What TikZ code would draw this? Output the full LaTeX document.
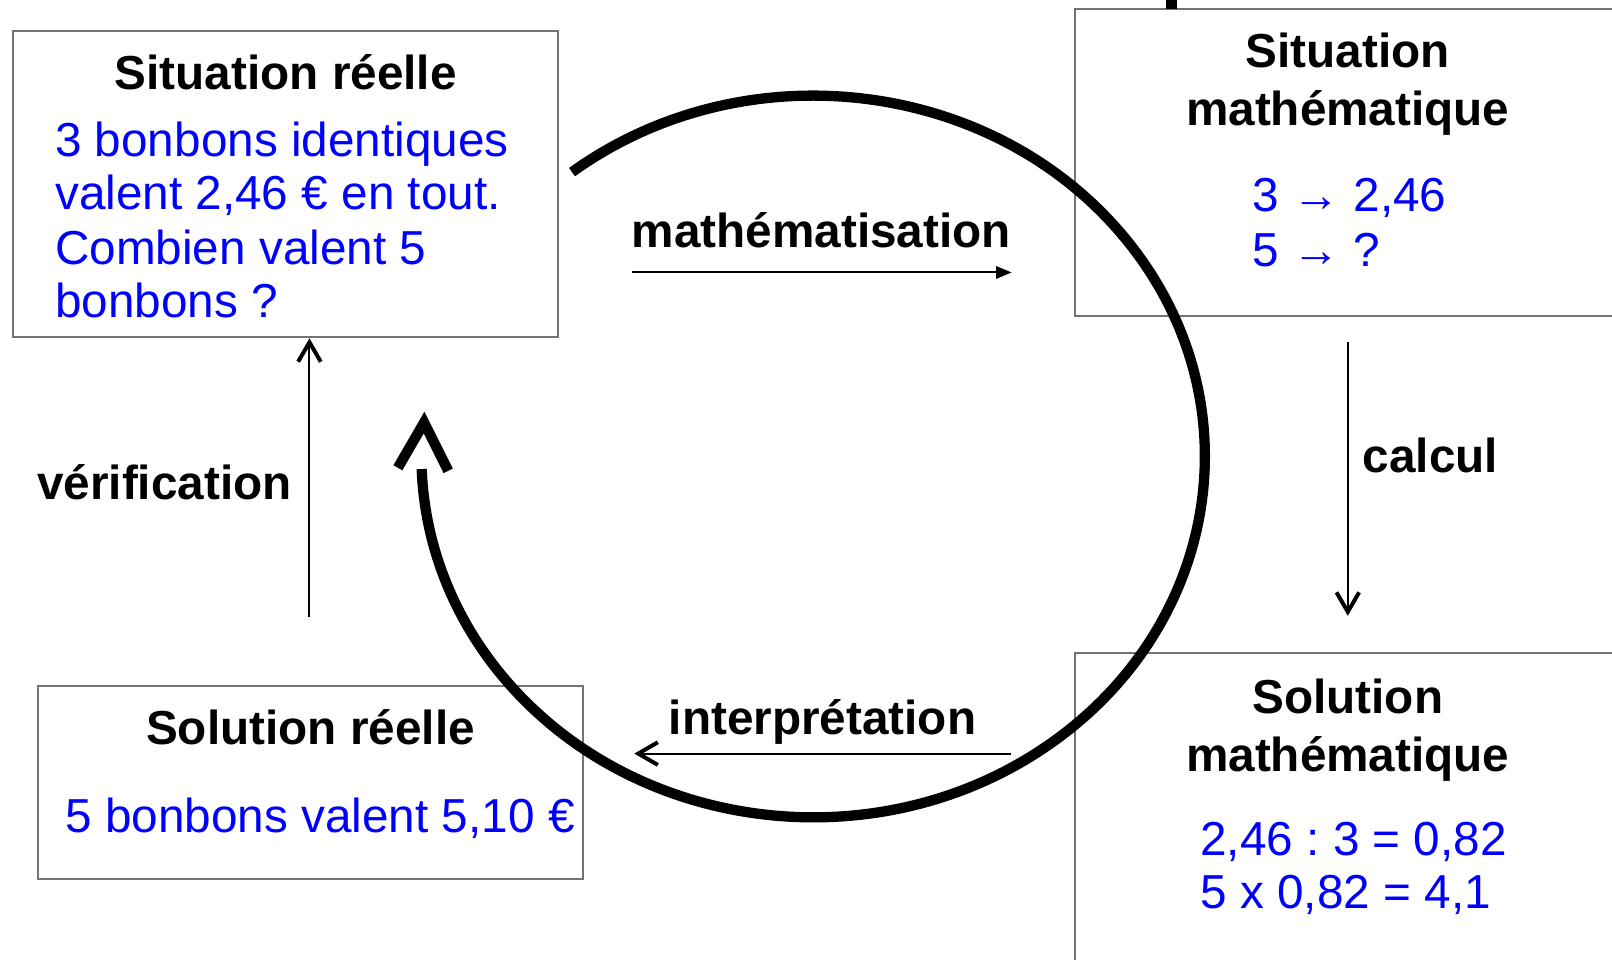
\documentclass[tikz,border=0pt]{standalone}
\usepackage{fontspec}
\setmainfont{Liberation Sans}
\usetikzlibrary{arrows.meta}
\frenchspacing
\begin{document}
\begin{tikzpicture}[x=0.1mm,y=-0.1mm,
  box/.style={draw=black!55, line width=0.6pt, inner sep=0, outer sep=0, anchor=north west},
  ttl/.style={font=\fontsize{13.2}{15.5}\selectfont\bfseries, anchor=base, inner sep=0},
  blu/.style={font=\fontsize{13.2}{15}\selectfont, text=blue, anchor=base west, inner sep=0},
  lbl/.style={font=\fontsize{13.2}{15}\selectfont\bfseries, anchor=base, inner sep=0},
  conn/.style={line width=0.55pt},
  vhead/.style={conn, -{Straight Barb[length=1.9mm,width=2.2mm,line width=1.1pt]}},
  thead/.style={conn, -{Triangle[length=1.5mm,width=1.2mm]}},
  cycle arrow/.style={line width=1mm},
]
\path[use as bounding box, clip] (0,0) rectangle (1568,933);

% boxes
\node[box, minimum width=53mm, minimum height=29.8mm] (sr) at (13,30) {};
\node[box, minimum width=57.4mm, minimum height=29.8mm] (sm) at (1046,9) {};
\node[box, minimum width=57.4mm, minimum height=32.5mm] (som) at (1046,635) {};
\node[box, minimum width=53mm, minimum height=18.8mm] (sor) at (37,667) {};

% mark at top
\fill (1134,-5) rectangle (1145,9);

% texts box 1
\node[ttl] (t1) at (278,87) {Situation réelle};
\node[blu] (b1a) at (53,152) {3 bonbons identiques};
\node[blu] (b1b) at (53,204) {valent 2,46 € en tout.};
\node[blu] (b1c) at (53,257) {Combien valent 5};
\node[blu] (b1d) at (53,309) {bonbons ?};

% texts box 2
\node[ttl] (t2a) at (1311,66) {Situation};
\node[ttl] (t2b) at (1311,122) {mathématique};
\node[blu] (b2a) at (1218,206) {3 → 2,46};
\node[blu] (b2b) at (1218,259) {5 → ?};

% texts box 3
\node[ttl] (t3a) at (1311,694) {Solution};
\node[ttl] (t3b) at (1311,750) {mathématique};
\node[blu] (b3a) at (1167,832) {2,46 : 3 = 0,82};
\node[blu] (b3b) at (1167,884) {5 x 0,82 = 4,1};

% texts box 4
\node[ttl] (t4) at (302,724) {Solution réelle};
\node[blu] (b4) at (63,810) {5 bonbons valent 5,10 €};

% labels
\node[lbl] (lm) at (799,241) {mathématisation};
\node[lbl, anchor=base west] (lc) at (1325,460) {calcul};
\node[lbl] (li) at (800,714) {interprétation};
\node[lbl] (lv) at (160,486) {vérification};

% connector end points
\coordinate (m1) at (615,265);
\coordinate (m2) at (984,265);
\coordinate (c1) at (1311,333);
\coordinate (c2) at (1311,599);
\coordinate (i1) at (983,733);
\coordinate (i2) at (617,733);
\coordinate (v1) at (301,600);
\coordinate (v2) at (301,329);

\draw[thead] (m1) -- (m2);
\draw[vhead] (c1) -- (c2);
\draw[vhead] (i1) -- (i2);
\draw[vhead] (v1) -- (v2);

% big cycle arrow
\coordinate (cs) at (556.4,167.4);
\draw[cycle arrow] (cs) arc[start angle=-128, end angle=178, x radius=381, y radius=351];
\coordinate (hl) at (387,455);
\coordinate (ht) at (412.5,411);
\coordinate (hr) at (436,458);
\draw[cycle arrow, line join=miter] (hl) -- (ht) -- (hr);
\end{tikzpicture}
\end{document}
